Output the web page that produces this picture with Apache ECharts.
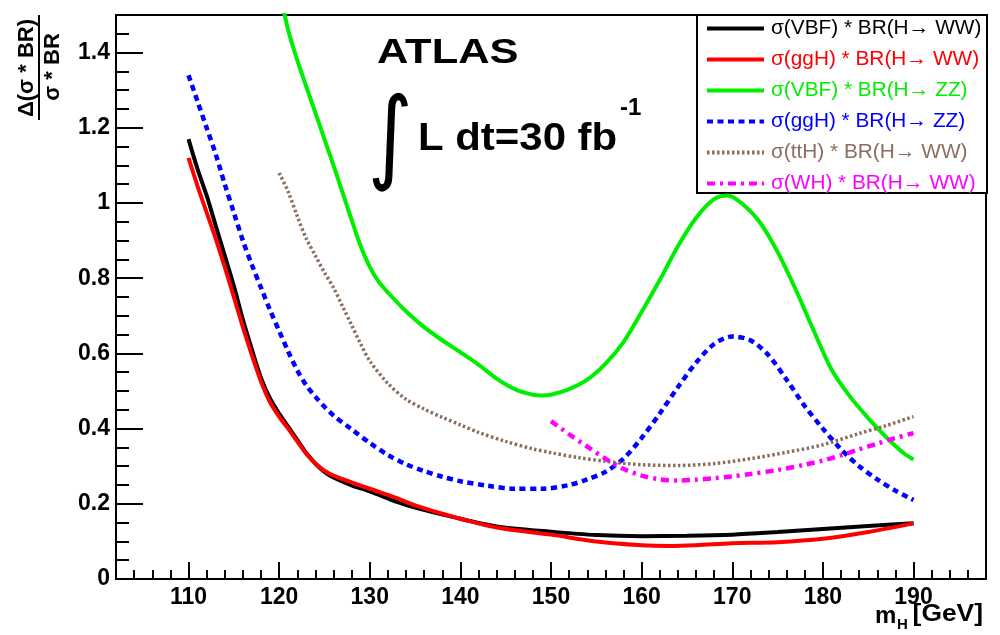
<!DOCTYPE html>
<html>
<head>
<meta charset="utf-8">
<script src="https://cdn.jsdelivr.net/npm/echarts@6/dist/echarts.min.js"></script>
<style>html,body{margin:0;padding:0;background:#fff}#c{width:1000px;height:635px}</style>
</head>
<body>
<div id="c"></div>
<script>
// ---- data ----
const xMajorTicks = [110, 120, 130, 140, 150, 160, 170, 180, 190];
const seriesNames = [
  'σ(VBF) * BR(H→ WW)',
  'σ(ggH) * BR(H→ WW)',
  'σ(VBF) * BR(H→ ZZ)',
  'σ(ggH) * BR(H→ ZZ)',
  'σ(ttH) * BR(H→ WW)',
  'σ(WH) * BR(H→ WW)'
];
const vbfWW_m = [110,111,112,113,114,115,116,117,118,119,120,121,122,123,124,125,126,128,130,133,135,139,144,150,155,160,165,170,175,180,185,190];
const vbfWW_v = [1.17,1.09,1.02,0.94,0.86,0.78,0.69,0.61,0.535,0.48,0.44,0.405,0.37,0.335,0.307,0.285,0.27,0.249,0.233,0.205,0.19,0.166,0.14,0.126,0.117,0.114,0.115,0.118,0.125,0.133,0.141,0.148];
const ggHWW_m = [110,111,112,113,114,115,116,117,118,119,120,121,122,123,124,125,126,128,130,133,135,139,144,150,155,160,163,166,170,175,180,185,190];
const ggHWW_v = [1.12,1.045,0.975,0.905,0.83,0.75,0.67,0.595,0.525,0.47,0.432,0.4,0.366,0.333,0.307,0.288,0.275,0.257,0.24,0.215,0.196,0.167,0.137,0.118,0.1,0.09,0.088,0.09,0.095,0.098,0.107,0.125,0.148];
const vbfZZ_m = [120,121,122,124,126,128,129,130,131,132,134,136,138,140,142,144,146,148,149,150,152,154,156,158,160,162,164,166,168,169.5,171,173,175,177,179,181,183,185,187,189,190];
const vbfZZ_v = [1.57,1.46,1.38,1.24,1.10,0.955,0.885,0.83,0.79,0.762,0.712,0.67,0.635,0.603,0.57,0.533,0.505,0.49,0.488,0.49,0.505,0.53,0.572,0.63,0.71,0.795,0.885,0.96,1.01,1.02,1.0,0.95,0.87,0.77,0.66,0.555,0.485,0.428,0.377,0.333,0.318];
const ggHZZ_m = [110,111,112,113,114,115,116,117,118,119,120,121,122,123,124,125,126,128,130,132,134,136,138,140,143,146,149,152,154,156,158,160,162,164,166,168,170,172,174,176,178,180,182,184,186,188,190];
const ggHZZ_v = [1.34,1.27,1.2,1.13,1.05,0.975,0.9,0.835,0.775,0.715,0.66,0.605,0.555,0.515,0.485,0.458,0.435,0.398,0.362,0.33,0.305,0.287,0.272,0.26,0.248,0.24,0.24,0.25,0.265,0.285,0.32,0.375,0.44,0.51,0.575,0.625,0.645,0.635,0.595,0.53,0.46,0.4,0.345,0.3,0.265,0.235,0.21];
const ttHWW_m = [120,121,122,123,124,125,126,127,128,129,130,132,134,136,138,140,142,145,148,150,153,156,160,164,168,172,176,180,184,187,190];
const ttHWW_v = [1.08,1.03,0.965,0.905,0.86,0.815,0.775,0.725,0.675,0.625,0.58,0.52,0.478,0.452,0.43,0.41,0.39,0.366,0.346,0.336,0.323,0.313,0.304,0.302,0.307,0.32,0.337,0.357,0.387,0.408,0.432];
const WHWW_m = [150,152,154,156,158,160,162,164,166,168,170,172,175,178,180,182,184,186,188,190];
const WHWW_v = [0.42,0.385,0.352,0.32,0.293,0.275,0.265,0.262,0.264,0.268,0.273,0.279,0.29,0.304,0.315,0.329,0.345,0.36,0.375,0.388];

// ---- styles ----
const colors = ['#000000', '#ff0000', '#00ee00', '#0000ff', '#8b6d5c', '#ff00ff'];
const lineTypes = ['solid', 'solid', 'solid', [6, 4.5], [2.5, 2.5], [8, 5, 3, 5]];
const lineWidths = [4, 4, 4, 4.5, 3.5, 4.5];
const FONT = 'Liberation Sans';

const zip = (m, v) => m.map((x, i) => [x, v[i]]);
const allData = [zip(vbfWW_m, vbfWW_v), zip(ggHWW_m, ggHWW_v), zip(vbfZZ_m, vbfZZ_v), zip(ggHZZ_m, ggHZZ_v), zip(ttHWW_m, ttHWW_v), zip(WHWW_m, WHWW_v)];

const chart = echarts.init(document.getElementById('c'), null, {renderer: 'canvas'});
const option = {
  animation: false,
  backgroundColor: '#fff',
  grid: {left: 116, right: 14, top: 15, bottom: 56, show: true, borderColor: '#000', borderWidth: 2, backgroundColor: 'transparent'},
  xAxis: [
    {type: 'value', min: 102, max: 198, interval: 2,
     axisLine: {show: true, onZero: false, lineStyle: {color: '#000', width: 2}},
     axisTick: {show: true, inside: true, length: 9, lineStyle: {color: '#000', width: 2}},
     axisLabel: {show: false}, splitLine: {show: false}},
    {type: 'value', min: 102, max: 198, position: 'bottom',
     axisLine: {show: false, onZero: false},
     axisTick: {show: true, inside: true, length: 17, customValues: xMajorTicks, lineStyle: {color: '#000', width: 2}},
     axisLabel: {show: true, customValues: xMajorTicks, margin: 7, color: '#000', fontSize: 23, fontWeight: 'bold', fontFamily: FONT},
     splitLine: {show: false}}
  ],
  yAxis: {type: 'value', min: 0, max: 1.5, interval: 0.2,
    axisLine: {show: true, onZero: false, lineStyle: {color: '#000', width: 2}},
    axisTick: {show: true, inside: true, length: 27, lineStyle: {color: '#000', width: 2}},
    minorTick: {show: true, splitNumber: 4, length: 13, lineStyle: {color: '#000', width: 2}},
    axisLabel: {showMaxLabel: false, margin: 6, color: '#000', fontSize: 23, fontWeight: 'bold', fontFamily: FONT},
    splitLine: {show: false}, minorSplitLine: {show: false}},
  legend: {
    orient: 'vertical', left: 697, top: 15, padding: [3, 8, 5, 8],
    itemWidth: 57, itemHeight: 14, itemGap: 10, selectedMode: false, z: 4,
    itemStyle: {opacity: 0},
    lineStyle: {width: 4},
    textStyle: {fontSize: 20.8, fontFamily: FONT, lineHeight: 20, padding: [0, 0, 0, 2]},
    data: seriesNames.map((n, i) => ({name: n, textStyle: {color: colors[i]}}))
  },
  series: seriesNames.map((n, i) => ({
    name: n, type: 'line', xAxisIndex: 0, data: allData[i],
    smooth: 0.3, showSymbol: false, symbol: 'none', clip: true,
    lineStyle: {color: colors[i], width: lineWidths[i], type: lineTypes[i]},
    itemStyle: {color: colors[i]}
  })),
  graphic: [
    {type: 'rect', z: 3, shape: {x: 697, y: 15, width: 290, height: 178}, style: {fill: '#fff', stroke: '#000', lineWidth: 2}},
    // y-axis title (fraction)
    {type: 'text', x: 27, y: 68, rotation: Math.PI / 2, style: {text: 'Δ(σ * BR)', x: 0, y: 0, align: 'center', verticalAlign: 'middle', fontSize: 22, fontWeight: 'bold', fontFamily: FONT, fill: '#000'}},
    {type: 'line', shape: {x1: 39, y1: 15, x2: 39, y2: 120}, style: {stroke: '#000', lineWidth: 2}},
    {type: 'text', x: 53, y: 67, rotation: Math.PI / 2, style: {text: 'σ * BR', x: 0, y: 0, align: 'center', verticalAlign: 'middle', fontSize: 22, fontWeight: 'bold', fontFamily: FONT, fill: '#000'}},
    // ATLAS label
    {type: 'text', x: 377, y: 53, scaleX: 1.24, style: {text: 'ATLAS', x: 0, y: 0, align: 'left', verticalAlign: 'middle', fontSize: 35, fontWeight: 'bold', fontFamily: FONT, fill: '#000'}},
    {type: 'text', x: 390, y: 143, scaleX: 0.85, style: {text: '∫', x: 0, y: 0, align: 'center', verticalAlign: 'middle', fontSize: 102, fontFamily: 'DejaVu Sans', fill: '#000'}},
    {type: 'text', x: 418, y: 139, scaleX: 1.075, style: {text: 'L dt=30 fb', x: 0, y: 0, align: 'left', verticalAlign: 'middle', fontSize: 39, fontWeight: 'bold', fontFamily: FONT, fill: '#000'}},
    {type: 'text', x: 620, y: 108, style: {text: '-1', x: 0, y: 0, align: 'left', verticalAlign: 'middle', fontSize: 24, fontWeight: 'bold', fontFamily: FONT, fill: '#000'}},
    // x-axis title
    {type: 'text', x: 983, y: 614, scaleX: 1.1, style: {text: '[GeV]', x: 0, y: 0, align: 'right', verticalAlign: 'middle', fontSize: 24, fontWeight: 'bold', fontFamily: FONT, fill: '#000'}},
    {type: 'text', x: 875, y: 616, style: {text: 'm', x: 0, y: 0, align: 'left', verticalAlign: 'middle', fontSize: 24, fontWeight: 'bold', fontFamily: FONT, fill: '#000'}},
    {type: 'text', x: 897, y: 625, style: {text: 'H', x: 0, y: 0, align: 'left', verticalAlign: 'middle', fontSize: 15, fontWeight: 'bold', fontFamily: FONT, fill: '#000'}}
  ]
};
chart.setOption(option);
</script>
</body>
</html>
